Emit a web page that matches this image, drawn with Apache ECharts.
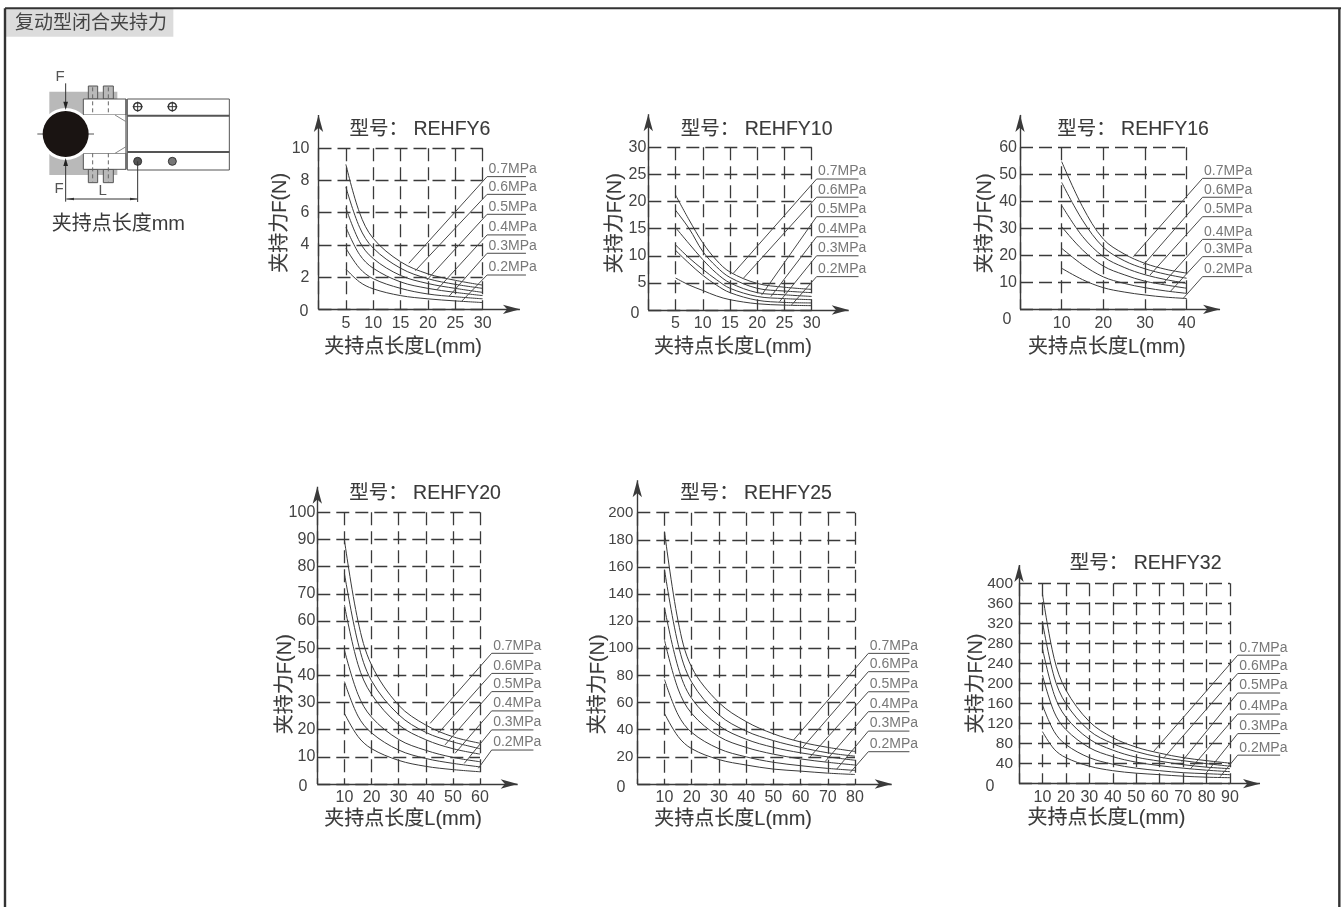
<!DOCTYPE html>
<html><head><meta charset="utf-8">
<style>html,body{margin:0;padding:0;background:#fff}#c{width:1341px;height:907px;filter:blur(0.5px)}</style>
<script src="https://cdn.jsdelivr.net/npm/echarts@6/dist/echarts.min.js"></script>
</head><body><div id="c"></div>
<script>
const pressures = ['0.7MPa','0.6MPa','0.5MPa','0.4MPa','0.3MPa','0.2MPa'];

const rehfy6L = [5,7.5,10,15,20,25,30];
const rehfy6F07 = [9,6,4.4,2.95,2.2,1.8,1.5];
const rehfy6F06 = [7.6,5.1,3.8,2.55,1.9,1.55,1.3];
const rehfy6F05 = [6.3,4.2,3.15,2.1,1.6,1.3,1.05];
const rehfy6F04 = [5.1,3.4,2.55,1.7,1.3,1.05,0.85];
const rehfy6F03 = [3.8,2.55,1.9,1.3,0.95,0.78,0.65];
const rehfy6F02 = [2.5,1.7,1.27,0.85,0.65,0.52,0.42];
const rehfy6Lead = [[16.5,2.86,30.8,8.24],[17.7,2.4,30.8,7.14],[19.8,1.82,30.8,5.9],[21.6,1.2,30.8,4.62],[23.8,0.79,30.8,3.48],[26.1,0.48,30.8,2.13]];

const rehfy10L = [5,7.5,10,12.5,15,20,25,30];
const rehfy10F07 = [21.2,16.6,12.4,9.2,7,4.9,4.2,3.8];
const rehfy10F06 = [18.4,15,10.8,8,6,4,3.5,3.2];
const rehfy10F05 = [15.2,12.2,9.3,6.8,5,3.2,2.8,2.5];
const rehfy10F04 = [12,9.6,7.5,5.6,4,2.5,2.1,1.9];
const rehfy10F03 = [11,8.6,6.4,4.6,3.2,1.8,1.4,1.3];
const rehfy10F02 = [5.9,4.6,3.6,2.6,1.9,1.15,0.9,0.8];
const rehfy10Lead = [[15.6,6.76,30.9,24.15],[17.45,5.84,30.9,20.8],[20.8,2.75,30.9,17.2],[22.5,2.46,30.9,13.5],[24.1,1.54,30.9,10],[26.3,0.92,30.9,6.15]];

const rehfy16L = [10,15,20,25,30,35,40];
const rehfy16F07 = [54.7,38,26,20.5,17,14.8,13.4];
const rehfy16F06 = [47,33,23,18,15,13,11.5];
const rehfy16F05 = [38.5,27,19.5,15.5,12.8,11,9.6];
const rehfy16F04 = [30.6,22,16,12.8,10.4,9,7.8];
const rehfy16F03 = [22.6,16.5,12,9.6,8,6.8,5.9];
const rehfy16F02 = [15.2,11,8,6.4,5.3,4.5,4];
const rehfy16Lead = [[27.2,19.5,43.8,48.5],[29.6,16.4,43.8,41.5],[31.2,12.7,43.8,34.3],[34,9,43.8,25.9],[36,6.5,43.8,19.5],[39.2,4.1,43.8,12.1]];

const rehfy20L = [10,15,20,30,40,50,60];
const rehfy20F07 = [89.8,60,43.8,29,21.7,17.4,15];
const rehfy20F06 = [77.5,52,38,25.5,19,15.5,13];
const rehfy20F05 = [65.9,44,33,21.8,16.3,13,11];
const rehfy20F04 = [49.3,33,24.6,16.4,12.4,9.8,8.2];
const rehfy20F03 = [37.7,25,18.8,12.5,9.4,7.6,6.3];
const rehfy20F02 = [26,17.5,13,8.7,6.5,5.3,4.5];
const rehfy20Lead = [[41.6,22.3,64.3,48.1],[44.6,18.7,64.3,40.7],[47.1,14.4,64.3,34],[50.8,11.3,64.3,26.9],[54.2,7.6,64.3,19.9],[59.4,5.8,64.3,12.5]];

const rehfy25L = [10,15,20,30,40,50,60,70,80];
const rehfy25F07 = [186,120,86,60,46,37,31,27,24];
const rehfy25F06 = [158,103,75,51,39,32,27,23,20.5];
const rehfy25F05 = [130,86,63,43,33,27,23,20,17.5];
const rehfy25F04 = [106,70,52,35,27,22,18.5,16,14];
const rehfy25F03 = [77,51,38,26,20,16,13.5,11.5,10];
const rehfy25F02 = [52,35,26,18,14,11,9.5,8,7];
const rehfy25Lead = [[57.4,32.4,84.9,96.3],[60.8,27,84.9,82.8],[63.5,20,84.9,68],[69,16.5,84.9,53.3],[73.3,11,84.9,39],[78.2,8.4,84.9,23.8]];

const rehfy32L = [10,15,20,30,40,50,60,70,80,90];
const rehfy32F07 = [379,250,187,124,92,73,61,52,46,41];
const rehfy32F06 = [323,213,160,106,80,64,53,46,40,35];
const rehfy32F05 = [270,178,133,89,67,53,45,38,33,30];
const rehfy32F04 = [217,143,108,72,54,43,36,31,27,24];
const rehfy32F03 = [157,104,78,52,39,31,26,22,20,18];
const rehfy32F02 = [104,69,52,35,26,21,18,15,13,12];
const rehfy32Lead = [[57.3,63.8,93.3,256.5],[61.6,50.5,93.3,220],[69.4,43.9,93.3,181],[73,29,93.3,139],[79.4,18.6,93.3,100],[85.8,14,93.3,57]];

const FONT = '"Liberation Sans","Noto Sans CJK SC",sans-serif';
const INK = '#3a3a3a', TXT = '#444';

const panels = [
 {title:'型号： REHFY6', L:rehfy6L, F:[rehfy6F07,rehfy6F06,rehfy6F05,rehfy6F04,rehfy6F03,rehfy6F02], lead:rehfy6Lead, leadEnd:37.9,
  box:[318.5,482.7,148.3,309.3], xMax:30,xInt:5,yMax:10,yInt:2, tipX:36.8,tipY:12.07, t:[420,128], zero:[304,312], xn:[28,5], yn:[28,12], ym:9, yf:16},
 {title:'型号： REHFY10', L:rehfy10L, F:[rehfy10F07,rehfy10F06,rehfy10F05,rehfy10F04,rehfy10F03,rehfy10F02], lead:rehfy10Lead, leadEnd:38.6,
  box:[648.3,811.7,147.3,310], xMax:30,xInt:5,yMax:30,yInt:5, tipX:36.8,tipY:36.1, t:[756.7,128], zero:[635,314], xn:[27,6], yn:[23,11], ym:2, yf:16},
 {title:'型号： REHFY16', L:rehfy16L, F:[rehfy16F07,rehfy16F06,rehfy16F05,rehfy16F04,rehfy16F03,rehfy16F02], lead:rehfy16Lead, leadEnd:53.4,
  box:[1020,1186.7,147.3,309.3], xMax:40,xInt:10,yMax:60,yInt:10, tipX:48,tipY:72, t:[1133,128], zero:[1007,320], xn:[28,7], yn:[25,10], ym:3, yf:16},
 {title:'型号： REHFY20', L:rehfy20L, F:[rehfy20F07,rehfy20F06,rehfy20F05,rehfy20F04,rehfy20F03,rehfy20F02], lead:rehfy20Lead, leadEnd:79.7,
  box:[317.3,480,512.3,784], xMax:60,xInt:10,yMax:100,yInt:10, tipX:73.9,tipY:109.4, t:[425,492], zero:[303,787], xn:[25,9], yn:[22,-72], ym:2, yf:16},
 {title:'型号： REHFY25', L:rehfy25L, F:[rehfy25F07,rehfy25F06,rehfy25F05,rehfy25F04,rehfy25F03,rehfy25F02], lead:rehfy25Lead, leadEnd:100,
  box:[637.3,855,512.7,784], xMax:80,xInt:10,yMax:200,yInt:20, tipX:93.5,tipY:224, t:[756,492], zero:[621,788], xn:[25,-26], yn:[29,-72], ym:4, yf:15},
 {title:'型号： REHFY32', L:rehfy32L, F:[rehfy32F07,rehfy32F06,rehfy32F05,rehfy32F04,rehfy32F03,rehfy32F02], lead:rehfy32Lead, leadEnd:111.4,
  box:[1019,1230,583.3,783.7], xMax:90,xInt:10,yMax:400,yInt:40, tipX:102.8,tipY:436.5, t:[1145.7,562], zero:[990,787], xn:[25,-36], yn:[33,0], ym:6, yf:15.5}
];

const W = 1341, H = 907;
const grid=[], xAxis=[], yAxis=[], series=[], title=[];
const graphics=[];
const yNames='夹持力F(N)', xNames='夹持点长度L(mm)';
const namePad = v => v>=0 ? [0,0,0,v] : [0,-v,0,0];
const nameStyle = v => ({fontFamily:FONT,fontSize:20,color:'#3a3a3a',textBorderColor:'#3a3a3a',textBorderWidth:0.12,padding:namePad(v)});

panels.forEach((p,i)=>{
  const [x0,x1,yt,y0]=p.box;
  grid.push({left:x0,width:x1-x0,top:yt,height:y0-yt});
  const split={show:true,lineStyle:{color:INK,width:1.3,type:[13,6]}};
  xAxis.push({type:'value',gridIndex:i,min:0,max:p.xMax,interval:p.xInt,name:xNames,nameLocation:'middle',nameGap:p.xn[0],nameMoveOverlap:false,
    nameTextStyle:nameStyle(p.xn[1]),
    axisLine:{show:false},axisTick:{show:false},splitLine:split,
    axisLabel:{showMinLabel:false,showMaxLabel:true,hideOverlap:false,margin:6,color:TXT,fontFamily:FONT,fontSize:16}});
  yAxis.push({type:'value',gridIndex:i,min:0,max:p.yMax,interval:p.yInt,name:yNames,nameLocation:'middle',nameGap:p.yn[0],nameMoveOverlap:false,
    nameTextStyle:nameStyle(p.yn[1]),
    axisLine:{show:false},axisTick:{show:false},splitLine:split,
    axisLabel:{showMinLabel:false,showMaxLabel:true,hideOverlap:false,margin:p.ym,color:TXT,fontFamily:FONT,fontSize:p.yf}});
  title.push({text:p.title,left:p.t[0],top:p.t[1]+1.5,textAlign:'center',textVerticalAlign:'middle',padding:0,
    textStyle:{fontFamily:FONT,fontSize:19.5,fontWeight:'normal',color:'#3a3a3a',textBorderColor:'#3a3a3a',textBorderWidth:0.12}});
  graphics.push({type:'text',left:p.zero[0]-4.5,top:p.zero[1]-8,style:{text:'0',font:'16px '+FONT,fill:TXT}});
  p.F.forEach((vals,k)=>{
    series.push({type:'line',name:pressures[k],xAxisIndex:i,yAxisIndex:i,smooth:0.35,showSymbol:false,symbol:'none',silent:true,animation:false,
      lineStyle:{color:'#3a3a3a',width:1},data:vals.map((v,j)=>[p.L[j],v])});
  });
});

// second, hidden set of axes with the same scale, reaching out to the arrow tips and leader ends
panels.forEach((p,i)=>{
  const [x0,x1,yt,y0]=p.box;
  const n=panels.length+i;
  const xE=Math.max(p.tipX,p.leadEnd), yE=p.tipY;
  const hPx=(y0-yt)*yE/p.yMax;
  grid.push({left:x0,width:(x1-x0)*xE/p.xMax,top:y0-hPx,height:hPx});
  xAxis.push({type:'value',gridIndex:n,min:0,max:xE,show:false,splitLine:{show:false}});
  yAxis.push({type:'value',gridIndex:n,min:0,max:yE,show:false,splitLine:{show:false}});
  p.lead.forEach((l,k)=>{
    const [sx,sy,ex,ey]=l;
    const s={type:'line',xAxisIndex:n,yAxisIndex:n,showSymbol:false,symbol:'none',silent:true,animation:false,
      lineStyle:{color:'#4a4a4a',width:1},data:[[sx,sy],[ex,ey],[p.leadEnd,ey]]};
    if(k===0) s.markLine={silent:true,symbol:['none','arrow'],symbolSize:[7,17],label:{show:false},animation:false,
      lineStyle:{color:INK,width:1.4,type:'solid'},
      data:[[{coord:[0,0]},{coord:[p.tipX,0]}],[{coord:[0,0]},{coord:[0,p.tipY]}]]};
    series.push(s);
  });
  series.push({type:'scatter',xAxisIndex:n,yAxisIndex:n,silent:true,animation:false,symbolSize:1,itemStyle:{color:'rgba(0,0,0,0)'},
    data:p.lead.map((l,k)=>({value:[l[2],l[3]],name:pressures[k]})),
    label:{show:true,position:'right',distance:0,offset:[1,-7.5],formatter:'{b}',color:'#555',fontFamily:FONT,fontSize:14}});
});

// page frame and heading
const z=v=>v/3;
const line=(a,b,c,d,w,col)=>({type:'line',shape:{x1:z(a),y1:z(b),x2:z(c),y2:z(d)},style:{stroke:col||'#444',lineWidth:w||1}});
const lineD=(a,b,c,d)=>({type:'line',shape:{x1:z(a),y1:z(b),x2:z(c),y2:z(d)},style:{stroke:'#666',lineWidth:1,lineDash:[4,3]}});
const rect=(a,b,c,d,fill,stroke,w)=>({type:'rect',shape:{x:z(a),y:z(b),width:z(c-a),height:z(d-b)},style:{fill:fill||'none',stroke:stroke||'none',lineWidth:w||1}});
const circ=(a,b,r,fill,stroke,w)=>({type:'circle',shape:{cx:z(a),cy:z(b),r:z(r)},style:{fill:fill,stroke:stroke||'none',lineWidth:w||1}});
const poly=(pts,fill)=>({type:'polygon',shape:{points:pts.map(q=>[z(q[0]),z(q[1])])},style:{fill:fill}});
const txt=(s,a,b,size,col,align)=>({type:'text',x:z(a),y:z(b),style:{text:s,font:size+'px '+FONT,fill:col||'#444',textAlign:align||'center',textVerticalAlign:'middle'}});
const G='#b9b9b9';
const pic=[
  rect(15,27,520,110,'#dcdcdc'),
  line(15,25,4023,25,2,'#333'),
  line(15,25,15,2721,2.4,'#333'),
  line(4018,25,4018,2721,2.4,'#333'),
  txt('复动型闭合夹持力',45,70,19,'#444','left'),
  rect(148,275,352,345,G),rect(148,462,352,525,G),
  rect(265,258,293,297,G,'#555',1),rect(310,258,340,297,G,'#555',1),
  rect(265,508,293,548,G,'#555',1),rect(310,508,340,548,G,'#555',1),
  rect(250,297,378,345,'#fff','#555',1),rect(250,460,378,508,'#fff','#555',1),
  rect(250,345,378,460,'#fff'),
  line(378,297,378,508,1.2,'#555'),
  lineD(278,262,278,345),lineD(325,262,325,345),lineD(278,460,278,545),lineD(325,460,325,545),
  rect(382,297,688,510,'#fff','#555',1),
  line(382,347,688,347,2,'#555'),line(382,456,688,456,2,'#555'),
  line(345,345,378,365,1,'#888'),line(345,460,378,440,1,'#888'),
  circ(413,320,12,'#fff','#333',1.5),circ(517,320,12,'#fff','#333',1.5),
  circ(413,484,12,'#555','#333',1),circ(517,484,12,'#777','#333',1),
  line(398,320,428,320,1,'#333'),line(413,305,413,335,1,'#333'),line(502,320,532,320,1,'#333'),line(517,305,517,335,1,'#333'),
  circ(197,402,78,'#fff'),
  line(112,402,282,402,1,'#555'),
  circ(197,402,69,'#1a1412'),
  line(197,250,197,310,1,'#333'),line(197,495,197,605,1,'#333'),
  poly([[190,305],[204,305],[197,330]],'#222'),poly([[190,498],[204,498],[197,474]],'#222'),
  line(413,484,413,606,1,'#333'),
  line(199,597,413,597,1,'#333'),
  poly([[199,597],[222,593],[222,601]],'#333'),poly([[413,597],[390,593],[390,601]],'#333'),
  txt('F',180,232,15,'#555'),txt('F',177,566,15,'#555'),txt('L',308,574,15,'#555'),
  txt('夹持点长度mm',355,673,20,'#3a3a3a')
];

const chart=echarts.init(document.getElementById('c'),null,{renderer:'canvas',width:W,height:H});
chart.setOption({animation:false,backgroundColor:'#fff',title,grid,xAxis,yAxis,series,tooltip:{show:false},
  graphic:{elements:[...pic,...graphics]}});
</script></body></html>
